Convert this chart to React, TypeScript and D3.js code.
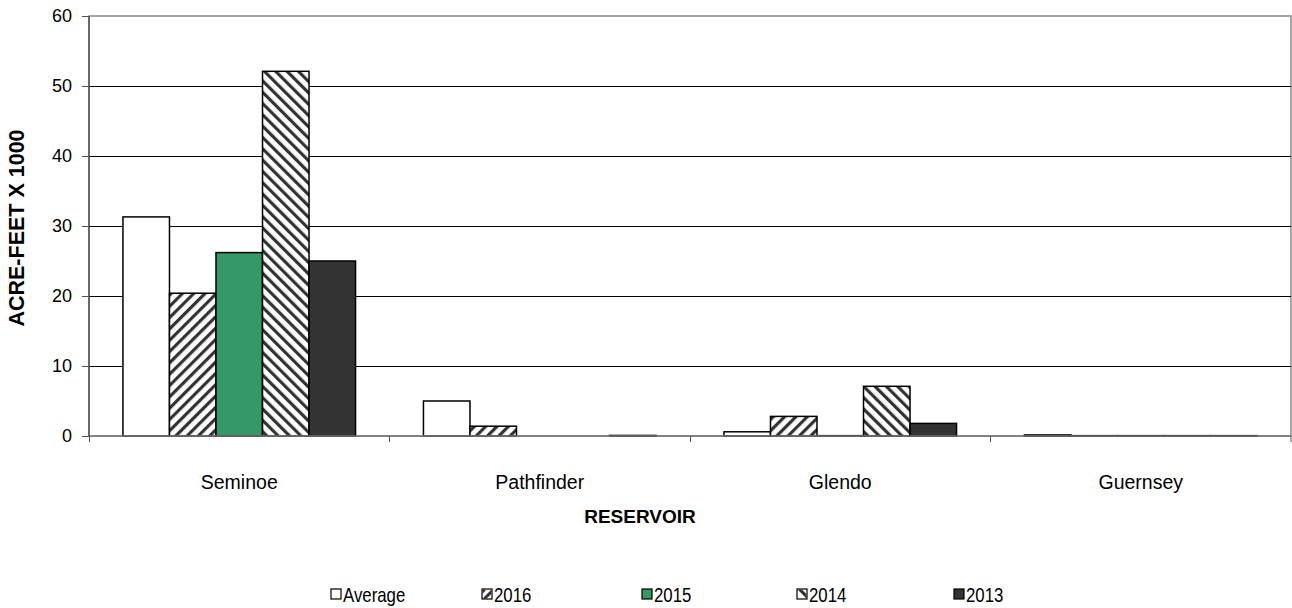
import React from "react";
import * as d3 from "d3";

const categories = ["Seminoe", "Pathfinder", "Glendo", "Guernsey"];
const seriesNames = ["Average", "2016", "2015", "2014", "2013"];
const average = [31.3, 5.0, 0.6, 0.15];
const y2016 = [20.4, 1.4, 2.8, 0.05];
const y2015 = [26.2, 0, 0.05, 0.05];
const y2014 = [52.1, 0, 7.1, 0.05];
const y2013 = [25.0, 0.08, 1.8, 0.05];
const yTicks = [0, 10, 20, 30, 40, 50, 60];

const seriesValues = [average, y2016, y2015, y2014, y2013];
const fills = ["#ffffff", "url(#p2016)", "#339966", "url(#p2014)", "#333333"];

export default function App() {
  const W = 1292, H = 608;
  const left = 89, right = 1291, top = 16, bottom = 436;
  const x0 = d3.scaleBand().domain(categories).range([left, right]).paddingInner(0.226).paddingOuter(0.113);
  const x1 = d3.scaleBand().domain(seriesNames).range([0, x0.bandwidth()]);
  const y = d3.scaleLinear().domain([0, 60]).range([bottom, top]);
  const step = x0.step();
  const font = "Arial, 'Liberation Sans', sans-serif";
  const legendX = [331, 482, 642, 797, 954];
  return (
    <svg width={W} height={H} style={{ position: "absolute", left: 0, top: 0, background: "#fff" }}>
      <defs>
        <pattern id="p2016" width={8} height={8} patternUnits="userSpaceOnUse" patternTransform="rotate(45)">
          <rect width={8} height={8} fill="#fff" />
          <rect width={3.2} height={8} fill="#333" />
        </pattern>
        <pattern id="p2014" width={8} height={8} patternUnits="userSpaceOnUse" patternTransform="rotate(-45)">
          <rect width={8} height={8} fill="#fff" />
          <rect width={3.2} height={8} fill="#333" />
        </pattern>
      </defs>
      {/* plot border */}
      <rect x={left} y={top} width={right - left} height={bottom - top} fill="none" stroke="#888" strokeWidth={1.5} />
      {/* gridlines */}
      {yTicks.filter(t => t > 0 && t < 60).map(t => (
        <line key={t} x1={left} x2={right} y1={y(t)} y2={y(t)} stroke="#000" strokeWidth={1} shapeRendering="crispEdges" />
      ))}
      {/* bars */}
      {categories.map((c, ci) => (
        <g key={c} transform={`translate(${x0(c)},0)`}>
          {seriesNames.map((s, si) => {
            const v = seriesValues[si][ci];
            const h = bottom - y(v);
            return (
              <rect key={s} x={x1(s)} y={y(v)} width={x1.bandwidth()} height={Math.max(h, 0)}
                fill={fills[si]} stroke="#000" strokeWidth={1.5} />
            );
          })}
        </g>
      ))}
      {/* axes */}
      <line x1={left} x2={right} y1={bottom} y2={bottom} stroke="#777" strokeWidth={1.5} />
      <line x1={left} x2={left} y1={top} y2={bottom} stroke="#555" strokeWidth={1.5} />
      {yTicks.map(t => (
        <g key={t}>
          <line x1={left - 7} x2={left} y1={y(t)} y2={y(t)} stroke="#555" strokeWidth={1} shapeRendering="crispEdges" />
          <text x={72} y={y(t)} dy="0.36em" textAnchor="end" fontFamily={font} fontSize={18} fill="#000">{t}</text>
        </g>
      ))}
      {categories.map((c, ci) => (
        <line key={"t" + c} x1={left + step * ci} x2={left + step * ci} y1={bottom} y2={bottom + 6} stroke="#555" strokeWidth={1} shapeRendering="crispEdges" />
      ))}
      <line x1={right} x2={right} y1={bottom} y2={bottom + 6} stroke="#555" strokeWidth={1} />
      {categories.map(c => (
        <text key={"l" + c} x={(x0(c) as number) + x0.bandwidth() / 2} y={489} textAnchor="middle" fontFamily={font} fontSize={19.5} fill="#000">{c}</text>
      ))}
      <text x={640} y={523} textAnchor="middle" fontFamily={font} fontSize={19} fontWeight="bold">RESERVOIR</text>
      <text transform={`translate(24,${(top + bottom) / 2 + 2}) rotate(-90)`} textAnchor="middle" fontFamily={font} fontSize={21.5} fontWeight="bold">ACRE-FEET X 1000</text>
      {/* legend */}
      {seriesNames.map((s, si) => (
        <g key={"lg" + s} transform={`translate(${legendX[si]},595)`}>
          <rect x={0} y={-6} width={10} height={10} fill={si === 1 || si === 3 ? "#fff" : fills[si]} stroke="#000" strokeWidth={1.2} />
          {si === 1 && <path d="M0.6,3.4 L9.4,-5.4 L9.4,-1 L4,4 Z" fill="#333" />}
          {si === 1 && <path d="M0.6,-1 L4.4,-5.4 L0.6,-5.4 Z" fill="#333" />}
          {si === 3 && <path d="M0.6,-5.4 L5,-5.4 L9.4,-1 L9.4,3.4 Z" fill="#333" />}
          <text transform="translate(12,0) scale(0.82,1)" dy="0.36em" fontFamily={font} fontSize={20.5} fill="#000">{s}</text>
        </g>
      ))}
    </svg>
  );
}
